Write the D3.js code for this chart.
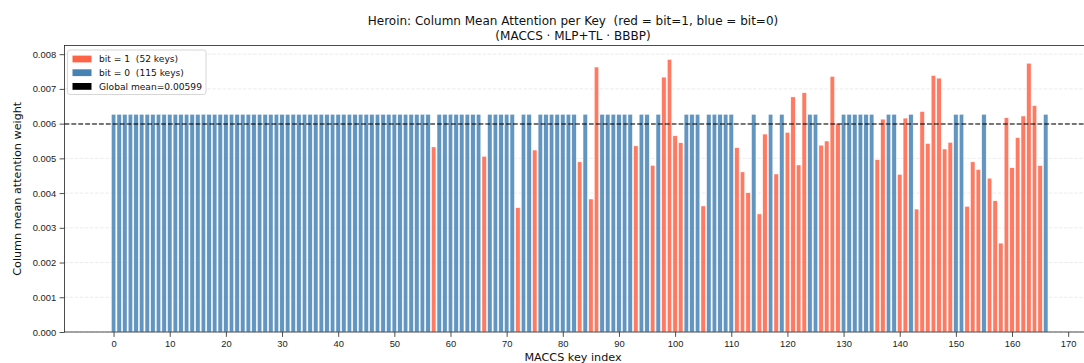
<!DOCTYPE html>
<html>
<head>
<meta charset="utf-8">
<script src="https://cdn.jsdelivr.net/npm/d3@7"></script>
<style>
  html, body { margin: 0; padding: 0; background: #fff; }
  svg { display: block; font-family: "DejaVu Sans", sans-serif; }
  svg text { white-space: pre; }
  .tick-label { font-size: 9.4px; fill: #222; }
  .axis-title { font-size: 11.2px; fill: #111; }
  .chart-title { font-size: 12px; fill: #111; }
  .legend-label { font-size: 9.1px; fill: #111; }
</style>
</head>
<body>
<svg id="chart" width="1084" height="363"></svg>
<script>
// MACCS keys 0..166, bit=0 keys share one attention value
const keyCount = 167;
const bitOffValue = 0.00627;
const globalMean = 0.00599;

// keys with bit = 1 and their column mean attention
const bitOnKeys = [
  57, 66, 72, 75, 83, 85, 86, 93, 96, 98, 99, 100, 101, 105, 111, 112, 113,
  115, 116, 118, 120, 121, 122, 123, 126, 127, 128, 129, 136, 137, 140, 141,
  143, 144, 145, 146, 147, 148, 149, 152, 153, 154, 156, 157, 158, 159, 160,
  161, 162, 163, 164, 165
];
const bitOnValues = [
  0.00533, 0.00506, 0.00358, 0.00524, 0.00490, 0.00383, 0.00763, 0.00536,
  0.00480, 0.00734, 0.00785, 0.00565, 0.00545, 0.00363, 0.00531, 0.00461,
  0.00401, 0.00340, 0.00570, 0.00455, 0.00575, 0.00677, 0.00481, 0.00689,
  0.00538, 0.00550, 0.00736, 0.00601, 0.00496, 0.00613, 0.00454, 0.00616,
  0.00354, 0.00635, 0.00543, 0.00739, 0.00731, 0.00527, 0.00546, 0.00362,
  0.00490, 0.00468, 0.00443, 0.00378, 0.00256, 0.00617, 0.00473, 0.00560,
  0.00622, 0.00774, 0.00652, 0.00479
];

const xTicks = [0, 10, 20, 30, 40, 50, 60, 70, 80, 90, 100, 110, 120, 130, 140, 150, 160, 170];
const yTicks = [0, 0.001, 0.002, 0.003, 0.004, 0.005, 0.006, 0.007, 0.008];

const titleLines = [
  "Heroin: Column Mean Attention per Key  (red = bit=1, blue = bit=0)",
  "(MACCS \u00b7 MLP+TL \u00b7 BBBP)"
];
const legendItems = [
  { label: "bit = 1  (52 keys)", color: "#ff6347" },
  { label: "bit = 0  (115 keys)", color: "#4682b4" },
  { label: "Global mean=0.00599", color: "#000000" }
];

const onLookup = new Map(bitOnKeys.map((k, i) => [k, bitOnValues[i]]));
const data = d3.range(keyCount).map((k) => ({
  key: k,
  bit: onLookup.has(k) ? 1 : 0,
  value: onLookup.has(k) ? onLookup.get(k) : bitOffValue
}));

const svg = d3.select("#chart");
const plot = { left: 64.5, right: 1094.8, top: 45.5, bottom: 332 };

const x = d3.scaleLinear().domain([-8.74, 174.74]).range([plot.left, plot.right]);
const y = d3.scaleLinear().domain([0, 0.00825]).range([plot.bottom, plot.top]);

svg.append("defs").append("clipPath").attr("id", "plot-clip")
  .append("rect")
  .attr("x", plot.left).attr("y", plot.top)
  .attr("width", plot.right - plot.left).attr("height", plot.bottom - plot.top);

// grid
svg.append("g")
  .selectAll("line")
  .data(yTicks)
  .join("line")
  .attr("x1", plot.left).attr("x2", plot.right)
  .attr("y1", (d) => y(d)).attr("y2", (d) => y(d))
  .attr("stroke", "#b0b0b0").attr("stroke-opacity", 0.3)
  .attr("stroke-width", 0.8).attr("stroke-dasharray", "3.5,1.6");

// bars
svg.append("g")
  .attr("clip-path", "url(#plot-clip)")
  .selectAll("rect")
  .data(data)
  .join("rect")
  .attr("x", (d) => x(d.key - 0.4))
  .attr("width", (d) => x(d.key + 0.4) - x(d.key - 0.4))
  .attr("y", (d) => y(d.value))
  .attr("height", (d) => y(0) - y(d.value))
  .attr("fill", (d) => (d.bit ? "#ff6347" : "#4682b4"))
  .attr("fill-opacity", 0.85)
  .attr("stroke", "#fff")
  .attr("stroke-width", 0.5);

// global mean line
svg.append("line")
  .attr("x1", plot.left).attr("x2", plot.right)
  .attr("y1", y(globalMean)).attr("y2", y(globalMean))
  .attr("stroke", "#000").attr("stroke-opacity", 0.7)
  .attr("stroke-width", 1.3).attr("stroke-dasharray", "4.8,2.1");

// axes
const xAxis = svg.append("g")
  .attr("transform", `translate(0,${plot.bottom})`)
  .call(d3.axisBottom(x).tickValues(xTicks).tickSize(4.9).tickPadding(3.5).tickFormat(d3.format("d")));
const yAxis = svg.append("g")
  .attr("transform", `translate(${plot.left},0)`)
  .call(d3.axisLeft(y).tickValues(yTicks).tickSize(4.9).tickPadding(3.5).tickFormat(d3.format(".3f")));

[xAxis, yAxis].forEach((g) => {
  g.select(".domain").remove();
  g.selectAll(".tick line").attr("stroke", "#222").attr("stroke-width", 0.8);
  g.selectAll(".tick text").attr("class", "tick-label").attr("font-family", null).attr("font-size", null);
});

// frame
svg.append("rect")
  .attr("x", plot.left).attr("y", plot.top)
  .attr("width", plot.right - plot.left).attr("height", plot.bottom - plot.top)
  .attr("fill", "none").attr("stroke", "#222").attr("stroke-width", 0.8);

// titles
svg.append("g")
  .selectAll("text")
  .data(titleLines)
  .join("text")
  .attr("class", "chart-title")
  .attr("x", 573).attr("y", (d, i) => 25 + i * 14.5)
  .attr("text-anchor", "middle")
  .text((d) => d);

svg.append("text")
  .attr("class", "axis-title")
  .attr("x", 573).attr("y", 361)
  .attr("text-anchor", "middle")
  .text("MACCS key index");

svg.append("text")
  .attr("class", "axis-title")
  .attr("transform", `translate(21,${(plot.top + plot.bottom) / 2}) rotate(-90)`)
  .attr("text-anchor", "middle")
  .text("Column mean attention weight");

// legend
const legend = svg.append("g").attr("transform", "translate(67.5,50)");
legend.append("rect")
  .attr("width", 138.5).attr("height", 44.5)
  .attr("rx", 2.5)
  .attr("fill", "#fff").attr("fill-opacity", 0.8)
  .attr("stroke", "#ccc").attr("stroke-width", 0.8);
const rows = legend.selectAll("g.item")
  .data(legendItems)
  .join("g")
  .attr("class", "item")
  .attr("transform", (d, i) => `translate(0,${9 + i * 13.7})`);
rows.append("rect")
  .attr("x", 5).attr("y", -3.4)
  .attr("width", 19).attr("height", 6.8)
  .attr("fill", (d) => d.color);
rows.append("text")
  .attr("class", "legend-label")
  .attr("x", 31.5).attr("y", 3.3)
  .text((d) => d.label);
</script>
</body>
</html>
